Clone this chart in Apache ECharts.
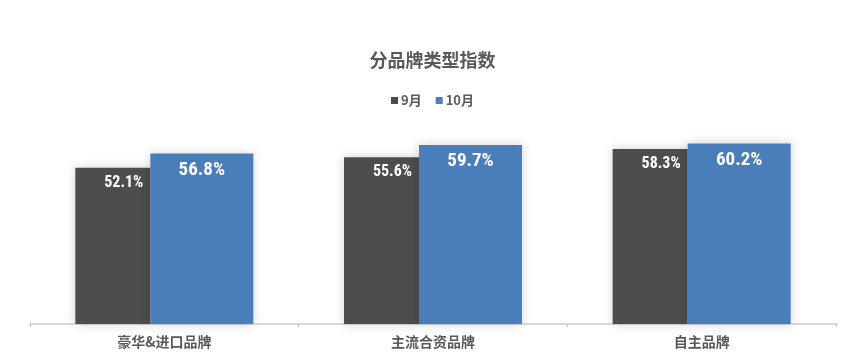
<!DOCTYPE html>
<html>
<head>
<meta charset="utf-8">
<script src="https://cdn.jsdelivr.net/npm/echarts@6/dist/echarts.min.js"></script>
<style>html,body{margin:0;padding:0;background:#fff;}#c{width:865px;height:360px;}</style>
</head>
<body>
<div id="c"></div>
<script>
const categories = ['豪华&进口品牌', '主流合资品牌', '自主品牌'];
const seriesNames = ['9月', '10月'];
const sep = [52.1, 55.6, 58.3];
const oct = [56.8, 59.7, 60.2];

const chart = echarts.init(document.getElementById('c'));
const cjk = '"Noto Sans CJK SC", "Noto Sans", sans-serif';
const narrow = '"Liberation Sans Narrow", "Arial Narrow", "Roboto Condensed", sans-serif';
chart.setOption({
  animation: false,
  backgroundColor: '#ffffff',
  title: {
    text: '分品牌类型指数',
    left: 'center',
    top: 46,
    textStyle: { fontFamily: cjk, fontSize: 18, fontWeight: 'bold', color: '#595959' }
  },
  legend: {
    data: seriesNames,
    left: 'center',
    top: 89,
    icon: 'rect',
    itemWidth: 7,
    itemHeight: 7,
    itemGap: 14,
    textStyle: { fontFamily: cjk, fontSize: 13, fontWeight: 'bold', color: '#595959', padding: [0, 0, 0, -2] }
  },
  grid: { left: 30, right: 29, top: 114, bottom: 36, containLabel: false },
  xAxis: {
    type: 'category',
    data: categories,
    axisLine: { show: true, lineStyle: { color: '#d9d9d9', width: 2 } },
    axisTick: { show: true, length: 3, lineStyle: { color: '#bfbfbf' } },
    axisLabel: { fontFamily: cjk, fontSize: 14, fontWeight: 'bold', color: '#595959', margin: 11 }
  },
  yAxis: {
    type: 'value',
    min: 0,
    max: 70,
    show: false,
    splitLine: { show: false }
  },
  series: [
    {
      name: seriesNames[0],
      type: 'bar',
      data: sep,
      barWidth: 75,
      barGap: '0%',
      itemStyle: { color: '#4d4d4d', shadowBlur: 10, shadowColor: 'rgba(0,0,0,0.18)' },
      label: {
        show: true,
        position: 'insideTopRight',
        distance: 7,
        formatter: p => p.value.toFixed(1) + '%',
        fontFamily: narrow,
        fontSize: 16,
        fontWeight: 'bold',
        color: '#ffffff'
      }
    },
    {
      name: seriesNames[1],
      type: 'bar',
      data: oct,
      barWidth: 103,
      barGap: '0%',
      itemStyle: { color: '#4a7ebb', shadowBlur: 10, shadowColor: 'rgba(0,0,0,0.18)' },
      label: {
        show: true,
        position: 'insideTop',
        distance: 7,
        formatter: p => p.value.toFixed(1) + '%',
        fontFamily: narrow,
        fontSize: 19,
        fontWeight: 'bold',
        color: '#ffffff'
      }
    }
  ]
});
</script>
</body>
</html>
